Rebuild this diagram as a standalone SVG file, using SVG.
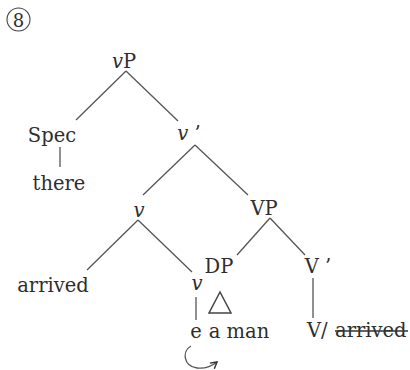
<svg xmlns="http://www.w3.org/2000/svg" width="410" height="370" viewBox="0 0 410 370">
<defs>
<style>
text{font-family:"DejaVu Serif",serif;font-size:19.5px;fill:#2e2e2e;text-anchor:middle}
.it{font-style:italic}
.st{text-anchor:start}
.ln{stroke:#555;stroke-width:1.3;fill:none}
</style>
<marker id="ah" viewBox="0 0 10 10" refX="8" refY="5" markerWidth="9" markerHeight="9" orient="auto" markerUnits="userSpaceOnUse">
<path d="M1,1 L8,5 L1,9" fill="none" stroke="#333" stroke-width="1.6"/>
</marker>
</defs>
<rect width="410" height="370" fill="#fff"/>
<g id="label8">
<circle cx="18.5" cy="19.5" r="11.5" fill="none" stroke="#444" stroke-width="1.1"/>
<text x="18.5" y="26.5" style="font-size:18px">8</text>
</g>
<g id="connectors">
<line class="ln" x1="126" y1="71" x2="76" y2="120"/>
<line class="ln" x1="126" y1="71" x2="178" y2="121"/>
<line class="ln" x1="60" y1="147" x2="60" y2="167"/>
<line class="ln" x1="195" y1="145" x2="143" y2="195"/>
<line class="ln" x1="195" y1="145" x2="248" y2="195"/>
<line class="ln" x1="138" y1="220" x2="87" y2="270"/>
<line class="ln" x1="138" y1="220" x2="192" y2="272"/>
<line class="ln" x1="270" y1="218" x2="237" y2="255"/>
<line class="ln" x1="270" y1="218" x2="305" y2="255"/>
<line class="ln" x1="196" y1="297" x2="196" y2="320"/>
<line class="ln" x1="313" y1="278" x2="313" y2="318"/>
<path class="ln" d="M191,346 C182,351 183,366 197,368 C205,369 212,366 217,362" stroke="#333" stroke-width="1.8" marker-end="url(#ah)"/>
</g>
<g id="vP"><text x="124" y="68"><tspan class="it">v</tspan>P</text></g>
<g id="Spec"><text x="52" y="142">Spec</text></g>
<g id="there"><text x="59" y="190">there</text></g>
<g id="vbar"><text x="189" y="140"><tspan class="it">v</tspan> ’</text></g>
<g id="v1"><text x="139" y="217" class="it">v</text></g>
<g id="VP"><text x="264" y="215">VP</text></g>
<g id="arrived"><text x="53" y="292">arrived</text></g>
<g id="v2"><text x="197" y="290" class="it">v</text></g>
<g id="DP"><text x="219" y="273">DP</text>
<polygon points="220,292 209,313 231,313" fill="none" stroke="#444" stroke-width="1.5"/></g>
<g id="Vbar"><text x="318" y="273">V ’</text></g>
<g id="e"><text x="196" y="338">e</text></g>
<g id="aman"><text x="239" y="338">a man</text></g>
<g id="Varrived"><text x="307" y="337" class="st">V/</text><text x="335" y="337" class="st">arrived</text>
<line x1="335" y1="331" x2="408" y2="331" stroke="#333" stroke-width="1.3"/></g>
</svg>
